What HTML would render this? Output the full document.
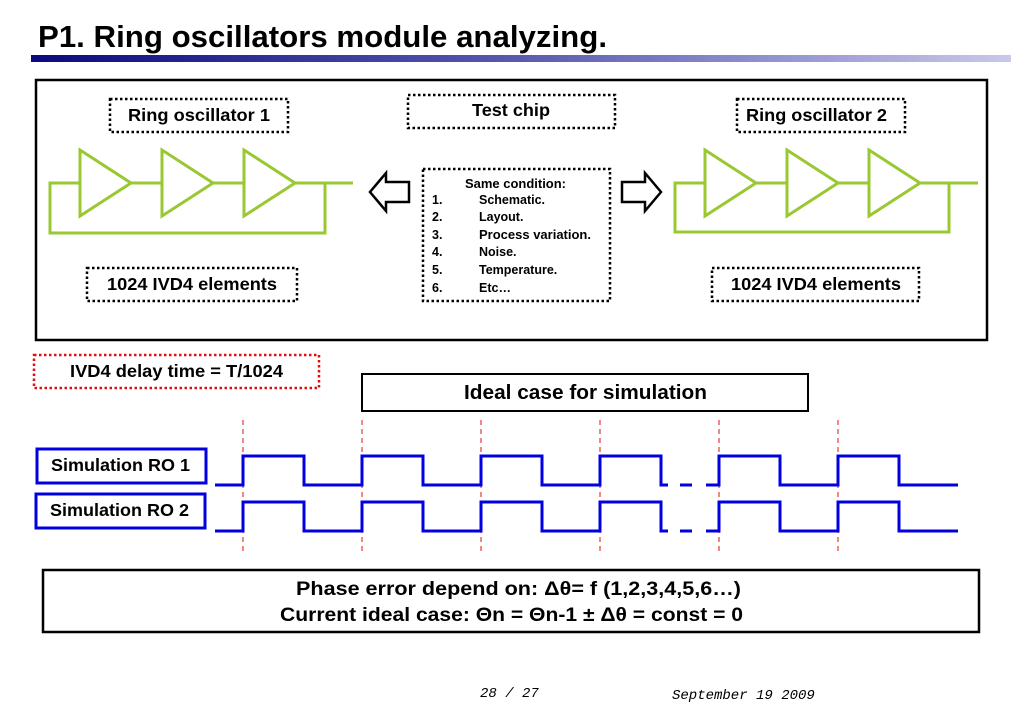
<!DOCTYPE html>
<html><head><meta charset="utf-8"><style>
html,body{margin:0;padding:0;background:#fff;}
svg{display:block;}
</style></head><body>
<svg width="1023" height="708" viewBox="0 0 1023 708" xmlns="http://www.w3.org/2000/svg" font-family="Liberation Sans, Arial, sans-serif" font-weight="bold">
<defs>
<linearGradient id="g" x1="0" x2="1" y1="0" y2="0">
<stop offset="0" stop-color="#0a0a80"/><stop offset="0.5" stop-color="#5a5ab0"/><stop offset="1" stop-color="#c8c8ec"/>
</linearGradient>
</defs>
<text x="38" y="47" font-size="31" textLength="569" lengthAdjust="spacingAndGlyphs">P1. Ring oscillators module analyzing.</text>
<rect x="31" y="55" width="980" height="7" fill="url(#g)"/>

<rect x="36" y="80" width="951" height="260" fill="none" stroke="#000" stroke-width="2.5"/>

<g fill="none" stroke="#000" stroke-width="2.5" stroke-dasharray="2.5,2.5">
<rect x="110" y="99" width="178" height="33"/>
<rect x="408" y="95" width="207" height="33"/>
<rect x="737" y="99" width="168" height="33"/>
<rect x="423" y="169" width="187" height="132"/>
<rect x="87" y="268" width="210" height="33"/>
<rect x="712" y="268" width="207" height="33"/>
</g>
<rect x="34" y="355" width="285" height="33" fill="none" stroke="#e01010" stroke-width="2.5" stroke-dasharray="2.5,2.5"/>

<text x="128" y="121" font-size="17.5" textLength="142" lengthAdjust="spacingAndGlyphs">Ring oscillator 1</text>
<text x="472" y="116" font-size="17.5" textLength="78" lengthAdjust="spacingAndGlyphs">Test chip</text>
<text x="746" y="121" font-size="17.5" textLength="141" lengthAdjust="spacingAndGlyphs">Ring oscillator 2</text>
<text x="107" y="290" font-size="17.5" textLength="170" lengthAdjust="spacingAndGlyphs">1024 IVD4 elements</text>
<text x="731" y="290" font-size="17.5" textLength="170" lengthAdjust="spacingAndGlyphs">1024 IVD4 elements</text>
<text x="70" y="377" font-size="17.5" textLength="213" lengthAdjust="spacingAndGlyphs">IVD4 delay time = T/1024</text>

<g font-size="12.5">
<text x="465" y="188" textLength="101" lengthAdjust="spacingAndGlyphs">Same condition:</text>
<text x="432" y="204">1.</text><text x="479" y="204">Schematic.</text>
<text x="432" y="221">2.</text><text x="479" y="221">Layout.</text>
<text x="432" y="239">3.</text><text x="479" y="239" textLength="112" lengthAdjust="spacingAndGlyphs">Process variation.</text>
<text x="432" y="256">4.</text><text x="479" y="256">Noise.</text>
<text x="432" y="274">5.</text><text x="479" y="274">Temperature.</text>
<text x="432" y="292">6.</text><text x="479" y="292">Etc…</text>
</g>

<g fill="#fff" stroke="#99c832" stroke-width="3">
<polyline fill="none" points="353,183 50,183 50,233 325,233 325,183"/>
<polygon points="80,150 131,183 80,216"/>
<polygon points="162,150 213,183 162,216"/>
<polygon points="244,150 295,183 244,216"/>
<polyline fill="none" points="978,183 675,183 675,232 949,232 949,183"/>
<polygon points="705,150 756,183 705,216"/>
<polygon points="787,150 838,183 787,216"/>
<polygon points="869,150 920,183 869,216"/>
</g>
<polygon points="409,182 386,182 386,173 370,192 386,211 386,202 409,202" fill="#fff" stroke="#000" stroke-width="2.5"/>
<polygon points="622,182 645,182 645,173 661,192 645,211 645,202 622,202" fill="#fff" stroke="#000" stroke-width="2.5"/>

<rect x="362" y="374" width="446" height="37" fill="none" stroke="#000" stroke-width="2"/>
<text x="464" y="399" font-size="20" textLength="243" lengthAdjust="spacingAndGlyphs">Ideal case for simulation</text>

<rect x="37" y="449" width="169" height="34" fill="none" stroke="#0000e0" stroke-width="3"/>
<rect x="36" y="494" width="169" height="34" fill="none" stroke="#0000e0" stroke-width="3"/>
<text x="51" y="471" font-size="17.5" textLength="139" lengthAdjust="spacingAndGlyphs">Simulation RO 1</text>
<text x="50" y="516" font-size="17.5" textLength="139" lengthAdjust="spacingAndGlyphs">Simulation RO 2</text>

<g stroke="#e01010" stroke-width="1" stroke-dasharray="5,4">
<line x1="243" y1="420" x2="243" y2="553"/>
<line x1="362" y1="420" x2="362" y2="553"/>
<line x1="481" y1="420" x2="481" y2="553"/>
<line x1="600" y1="420" x2="600" y2="553"/>
<line x1="719" y1="420" x2="719" y2="553"/>
<line x1="838" y1="420" x2="838" y2="553"/>
</g>

<g fill="none" stroke="#0000e0" stroke-width="3">
<polyline points="215,485 243,485 243,456 304,456 304,485 362,485 362,456 423,456 423,485 481,485 481,456 542,456 542,485 600,485 600,456 661,456 661,485 668,485"/>
<line x1="680" y1="485" x2="692" y2="485"/>
<polyline points="706,485 719,485 719,456 780,456 780,485 838,485 838,456 899,456 899,485 958,485"/>
<polyline points="215,531 243,531 243,502 304,502 304,531 362,531 362,502 423,502 423,531 481,531 481,502 542,502 542,531 600,531 600,502 661,502 661,531 668,531"/>
<line x1="680" y1="531" x2="692" y2="531"/>
<polyline points="706,531 719,531 719,502 780,502 780,531 838,531 838,502 899,502 899,531 958,531"/>
</g>

<rect x="43" y="570" width="936" height="62" fill="none" stroke="#000" stroke-width="2.5"/>
<text x="296" y="595" font-size="19" textLength="445" lengthAdjust="spacingAndGlyphs">Phase error depend on: Δθ= f (1,2,3,4,5,6…)</text>
<text x="280" y="621" font-size="19" textLength="463" lengthAdjust="spacingAndGlyphs">Current ideal case: Θn = Θn-1 ± Δθ = const = 0</text>

<text x="480" y="697" font-size="14" font-family="Liberation Mono, monospace" font-weight="normal" font-style="italic">28 / 27</text>
<text x="672" y="699" font-size="14" font-family="Liberation Mono, monospace" font-weight="normal" font-style="italic">September 19 2009</text>
</svg>
</body></html>
